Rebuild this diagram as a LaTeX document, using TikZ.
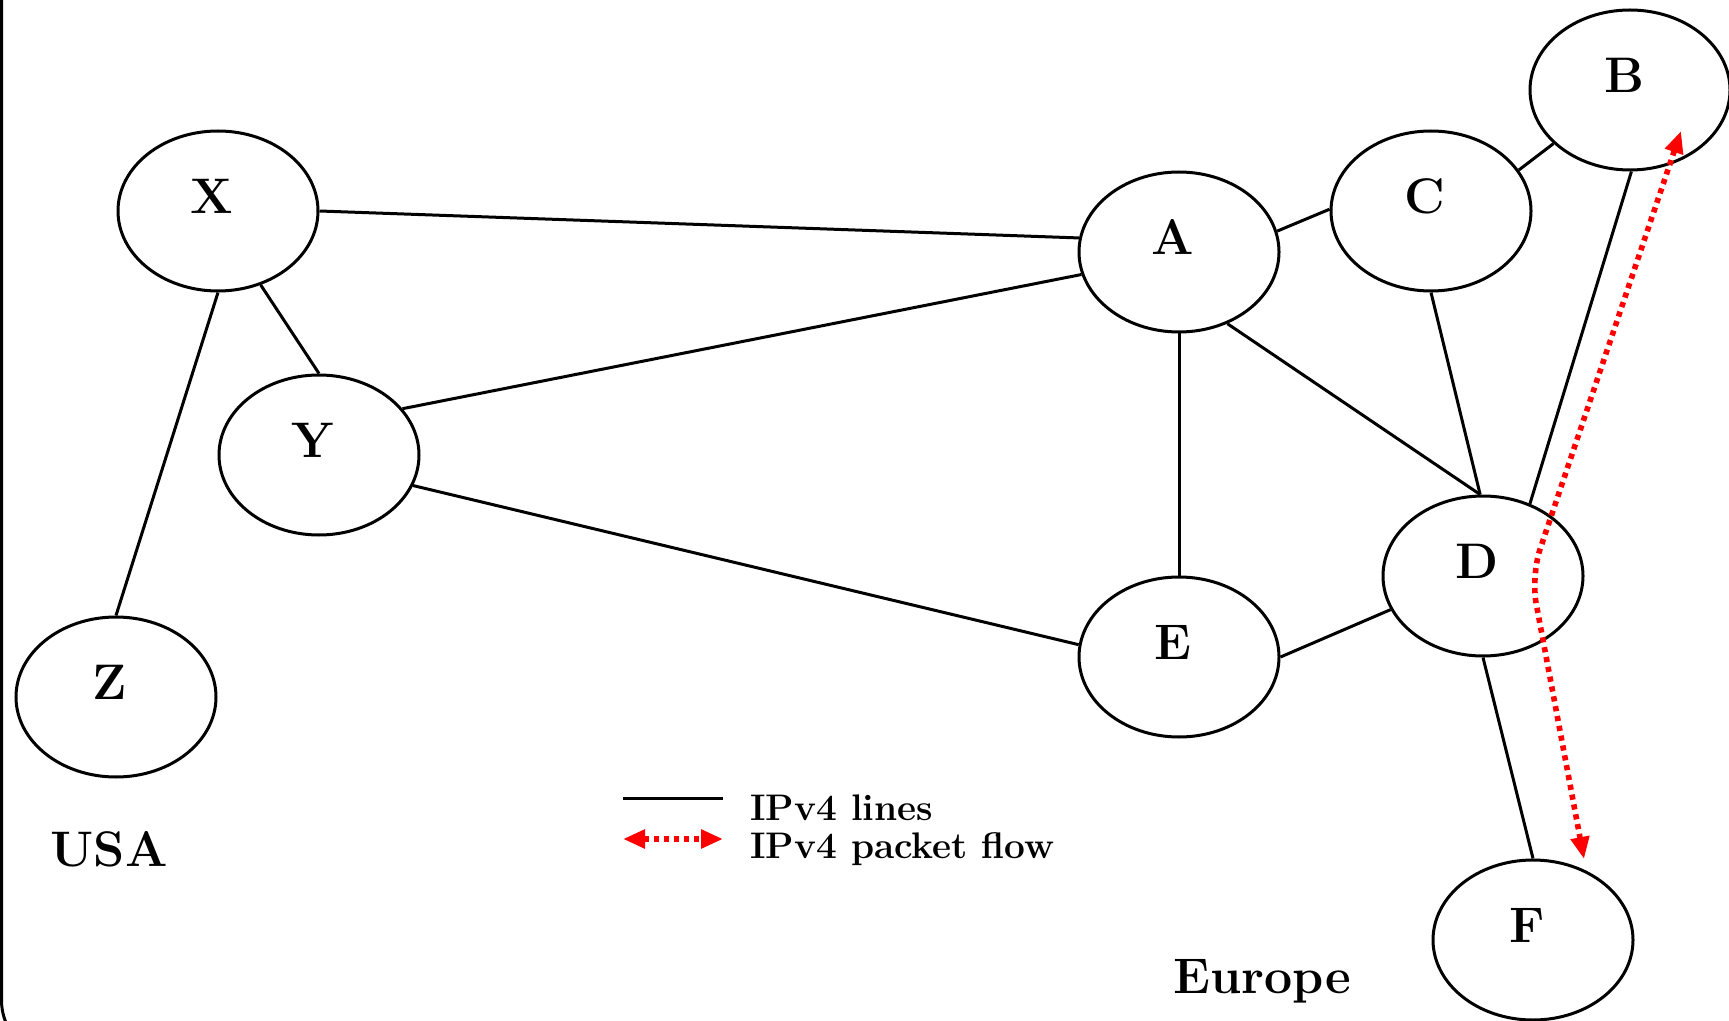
\documentclass[tikz,border=0pt]{standalone}
\usepackage{fontspec}
\usetikzlibrary{arrows.meta,shapes.geometric}
\begin{document}
\begin{tikzpicture}[x=0.5pt,y=-0.5pt,
  router/.style={draw, line width=1.5pt, ellipse, minimum width=100pt, minimum height=80pt, inner sep=0pt},
  link/.style={line width=1.5pt},
  flow/.style={red, line width=2.8pt, dash pattern=on 2.6pt off 2.4pt,
    {Triangle[length=11pt,width=9pt]}-{Triangle[length=11pt,width=9pt]}},
  rlabel/.style={font=\fontsize{25}{30}\selectfont\bfseries},
  ltext/.style={font=\fontsize{18.5}{22}\selectfont\bfseries, anchor=base west, inner sep=0pt}]
\useasboundingbox (0,0) rectangle (1729,1021);
\clip (0,0) rectangle (1729,1021);
% frame
\draw[line width=1.5pt, rounded corners=30pt] (1.5,-100) -- (1.5,1060) -- (400,1060);
% routers
\node[router, label={[rlabel, shift={(-6,-15)}]center:X}] (X) at (218,211) {};
\node[router, label={[rlabel, shift={(-6,-15)}]center:Y}] (Y) at (319,455) {};
\node[router, label={[rlabel, shift={(-6,-15)}]center:Z}] (Z) at (116,697) {};
\node[router, label={[rlabel, shift={(-6,-15)}]center:A}] (A) at (1179,252) {};
\node[router, label={[rlabel, shift={(-6,-15)}]center:C}] (C) at (1431,211) {};
\node[router, label={[rlabel, shift={(-6,-15)}]center:B}] (B) at (1630,90) {};
\node[router, label={[rlabel, shift={(-6,-15)}]center:D}] (D) at (1483,576) {};
\node[router, label={[rlabel, shift={(-6,-15)}]center:E}] (E) at (1179,657) {};
\node[router, label={[rlabel, shift={(-6,-15)}]center:F}] (F) at (1533,940) {};
% links
\draw[link] (X.0) -- (A.172);
\draw[link] (X.-60) -- (Y.90);
\draw[link] (X.-90) -- (Z.90);
\draw[link] (Y.29) -- (A.193);
\draw[link] (Y.-18) -- (E.173);
\draw[link] (A.12) -- (C.179);
\draw[link] (A.-90) -- (E.90);
\draw[link] (A.-56) -- (D.92);
\draw[link] (C.25) -- (B.215);
\draw[link] (C.-90) -- (D.92);
\draw[link] (B.-89) -- (D.57);
\draw[link] (E.0) -- (D.200);
\draw[link] (D.-90) -- (F.90);
% packet flow
\coordinate (fb) at (1681,131);
\coordinate (fm) at (1531,576);
\coordinate (ff) at (1584,859);
\draw[flow, rounded corners=14pt] (fb) -- (fm) -- (ff);
% legend
\coordinate (l1a) at (623,798);
\coordinate (l1b) at (723,798);
\coordinate (l2a) at (623,839);
\coordinate (l2b) at (723,839);
\draw[link] (l1a) -- (l1b);
\draw[flow] (l2a) -- (l2b);
\node[ltext] (t1) at (750,820) {IPv4 lines};
\node[ltext] (t2) at (750,858) {IPv4 packet flow};
% regions
\node[rlabel, anchor=base] (usa) at (109,866) {USA};
\node[rlabel, anchor=base] (eu) at (1262,993) {Europe};
\end{tikzpicture}
\end{document}
